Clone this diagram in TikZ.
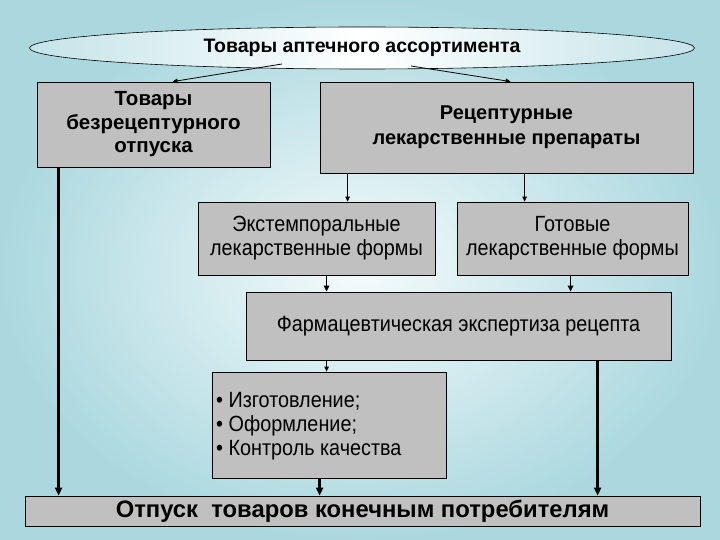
\documentclass[tikz,border=0pt]{standalone}
\usepackage{fontspec}
\setmainfont{Liberation Sans}
\newfontfamily\narrowfont[FakeStretch=0.9]{Liberation Sans}
\usetikzlibrary{shapes.geometric,arrows.meta,calc}
\definecolor{bgout}{HTML}{ABD8DF}
\definecolor{bgin}{HTML}{F4FBFC}
\definecolor{boxgray}{HTML}{C0C0C0}
\tikzset{
  box/.style={draw=black, fill=boxgray, line width=0.8pt, align=center, inner sep=2pt},
  regtext/.style={font=\narrowfont\fontsize{22}{24}\selectfont},
  thinarr/.style={line width=0.8pt, -{Triangle[length=5pt,width=4.5pt]}},
  medarr/.style={line width=1.4pt, -{Triangle[length=6pt,width=5.5pt]}},
  thickarr/.style={line width=2.6pt, -{Triangle[length=8pt,width=7pt]}},
}
\begin{document}
\begin{tikzpicture}[x=1pt,y=-1pt]
\useasboundingbox (0,0) rectangle (720,540);
\shade[inner color=bgin, outer color=bgout] (0,0) rectangle (720,540);
\node[ellipse, draw=black, line width=0.6pt, left color=bgout!70, right color=bgout!70, middle color=white,
  minimum width=665pt, minimum height=42pt, inner sep=0pt, font=\bfseries\fontsize{19.5}{22}\selectfont] (ell) at (362,48) {Товары аптечного ассортимента};
\node[box, minimum width=233pt, minimum height=85pt, font=\bfseries\fontsize{20.5}{23.5}\selectfont] (b1) at (153.5,124.5) {Товары\\безрецептурного\\отпуска};
\node[box, minimum width=373pt, minimum height=91pt, font=\bfseries\fontsize{20}{25}\selectfont] (b2) at (506.5,127.5) {Рецептурные\\лекарственные препараты};
\node[box, minimum width=237pt, minimum height=73pt, regtext] (b3) at (316.5,238.5) {Экстемпоральные\\лекарственные формы};
\node[box, minimum width=231pt, minimum height=73pt, regtext] (b4) at (572.5,238.5) {Готовые\\лекарственные формы};
\node[box, minimum width=425pt, minimum height=68pt, regtext] (b5) at (458.5,326) {Фармацевтическая экспертиза рецепта};
\node[box, minimum width=234pt, minimum height=106pt] (b6) at (329,425) {};
\node[anchor=west, align=left, inner sep=0pt, regtext] (b6t) at (216,426) {• Изготовление;\\• Оформление;\\• Контроль качества};
\node[box, minimum width=675pt, minimum height=30pt, inner sep=0pt, font=\bfseries\fontsize{23.8}{24}\selectfont] (b7) at (362.5,511) {Отпуск\ \ товаров конечным потребителям};
% arrows from ellipse
\coordinate (e1) at (282,64);
\coordinate (e2) at (411,66);
\draw[thinarr] (e1) -- ([xshift=136pt]b1.north west);
\draw[thinarr] (e2) -- ([xshift=191pt]b2.north west);
% b2 -> b3, b4
\coordinate (p1) at ([xshift=28pt]b2.south west);
\coordinate (p2) at ([xshift=205pt]b2.south west);
\draw[thinarr] (p1) -- (p1 |- b3.north);
\draw[thinarr] (p2) -- (p2 |- b4.north);
% b3, b4 -> b5
\coordinate (p3) at ([xshift=129pt]b3.south west);
\coordinate (p4) at ([xshift=114pt]b4.south west);
\draw[medarr] (p3) -- (p3 |- b5.north);
\draw[medarr] (p4) -- (p4 |- b5.north);
% b5 -> b6
\coordinate (p5) at ([xshift=81pt]b5.south west);
\draw[thinarr] (p5) -- (p5 |- b6.north);
% thick to b7
\coordinate (p6) at ([xshift=22pt]b1.south west);
\coordinate (p7) at ([xshift=108pt]b6.south west);
\coordinate (p8) at ([xshift=352pt]b5.south west);
\draw[thickarr] (p6) -- (p6 |- b7.north);
\draw[thickarr] (p7) -- (p7 |- b7.north);
\draw[thickarr] (p8) -- (p8 |- b7.north);
\end{tikzpicture}
\end{document}
